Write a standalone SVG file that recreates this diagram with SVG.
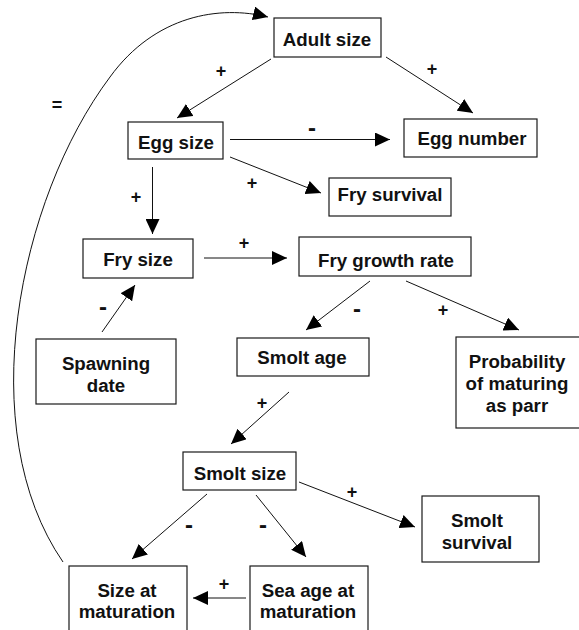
<svg xmlns="http://www.w3.org/2000/svg" width="579" height="630" viewBox="0 0 579 630">
<style>
.box{fill:#fff;stroke:#1a1a1a;stroke-width:1.2}
.t{font-family:"Liberation Sans",Arial,sans-serif;font-weight:bold;font-size:18.7px;fill:#111;text-anchor:middle}
.s{font-family:"Liberation Sans",Arial,sans-serif;font-weight:bold;font-size:18px;fill:#111;text-anchor:middle}
.m{font-family:"Liberation Sans",Arial,sans-serif;font-weight:bold;font-size:24px;fill:#111;text-anchor:middle}
.c{fill:none;stroke:#111;stroke-width:1}
</style>
<defs>
<marker id="ah" markerUnits="userSpaceOnUse" markerWidth="16" markerHeight="14" refX="15" refY="7" orient="auto">
<path d="M0,0 L15,7 L0,14 Z" fill="#000"/>
</marker>
</defs>
<rect width="579" height="630" fill="#fff"/>
<g id="connectors">
<line class="c" x1="271" y1="59" x2="177" y2="118" marker-end="url(#ah)"/>
<line class="c" x1="386" y1="57" x2="473" y2="113" marker-end="url(#ah)"/>
<line class="c" x1="230" y1="139.5" x2="390" y2="139.5" marker-end="url(#ah)"/>
<line class="c" x1="230" y1="157" x2="321" y2="193" marker-end="url(#ah)"/>
<line class="c" x1="152.5" y1="167" x2="152.5" y2="234" marker-end="url(#ah)"/>
<line class="c" x1="204" y1="258" x2="287" y2="258" marker-end="url(#ah)"/>
<line class="c" x1="102" y1="332" x2="135" y2="285" marker-end="url(#ah)"/>
<line class="c" x1="370" y1="281" x2="306" y2="330" marker-end="url(#ah)"/>
<line class="c" x1="406" y1="281" x2="519" y2="330" marker-end="url(#ah)"/>
<line class="c" x1="289" y1="392" x2="231" y2="444" marker-end="url(#ah)"/>
<line class="c" x1="207" y1="494" x2="132" y2="559" marker-end="url(#ah)"/>
<line class="c" x1="256" y1="495" x2="306" y2="557" marker-end="url(#ah)"/>
<line class="c" x1="299" y1="482" x2="415" y2="527" marker-end="url(#ah)"/>
<line class="c" x1="246" y1="598" x2="193" y2="598" marker-end="url(#ah)"/>
<path class="c" d="M63,562 C-28,430 18,200 110,77 C155,15 220,5 268,17" marker-end="url(#ah)"/>
<text class="s" x="221" y="77">+</text>
<text class="s" x="432" y="75">+</text>
<text class="s" x="57" y="111">=</text>
<text class="m" x="312" y="136">-</text>
<text class="s" x="252" y="189">+</text>
<text class="s" x="136" y="203">+</text>
<text class="s" x="244" y="249">+</text>
<text class="m" x="103" y="315">-</text>
<text class="m" x="357" y="317">-</text>
<text class="s" x="443" y="316">+</text>
<text class="s" x="262" y="409">+</text>
<text class="m" x="189" y="533">-</text>
<text class="m" x="263" y="533">-</text>
<text class="s" x="352" y="498">+</text>
<text class="s" x="224" y="590">+</text>
</g>
<g id="adult-size"><rect class="box" x="274" y="18" width="107" height="39"/><text class="t" x="327" y="46">Adult size</text></g>
<g id="egg-size"><rect class="box" x="128" y="122" width="95" height="37"/><text class="t" x="176" y="149">Egg size</text></g>
<g id="egg-number"><rect class="box" x="404" y="119" width="133" height="38"/><text class="t" x="472" y="145">Egg number</text></g>
<g id="fry-survival"><rect class="box" x="329" y="178" width="122" height="38"/><text class="t" x="390" y="201">Fry survival</text></g>
<g id="fry-size"><rect class="box" x="83" y="239" width="110" height="39"/><text class="t" x="138" y="266">Fry size</text></g>
<g id="fry-growth-rate"><rect class="box" x="299" y="237" width="172" height="39"/><text class="t" x="386" y="267">Fry growth rate</text></g>
<g id="spawning-date"><rect class="box" x="36" y="339" width="140" height="65"/><text class="t" x="106" y="370">Spawning</text><text class="t" x="106" y="392">date</text></g>
<g id="smolt-age"><rect class="box" x="237" y="338" width="132" height="38"/><text class="t" x="302" y="364">Smolt age</text></g>
<g id="prob-maturing-parr"><rect class="box" x="456" y="337" width="124" height="91"/><text class="t" x="517" y="368">Probability</text><text class="t" x="517" y="390">of maturing</text><text class="t" x="517" y="412">as parr</text></g>
<g id="smolt-size"><rect class="box" x="183" y="452" width="113" height="38"/><text class="t" x="240" y="480">Smolt size</text></g>
<g id="smolt-survival"><rect class="box" x="422" y="496" width="117" height="66"/><text class="t" x="477" y="527">Smolt</text><text class="t" x="477" y="549">survival</text></g>
<g id="size-at-maturation"><rect class="box" x="69" y="566" width="118" height="70"/><text class="t" x="127" y="597">Size at</text><text class="t" x="127" y="618">maturation</text></g>
<g id="sea-age-at-maturation"><rect class="box" x="250" y="566" width="118" height="70"/><text class="t" x="308" y="597">Sea age at</text><text class="t" x="308" y="618">maturation</text></g>
</svg>
